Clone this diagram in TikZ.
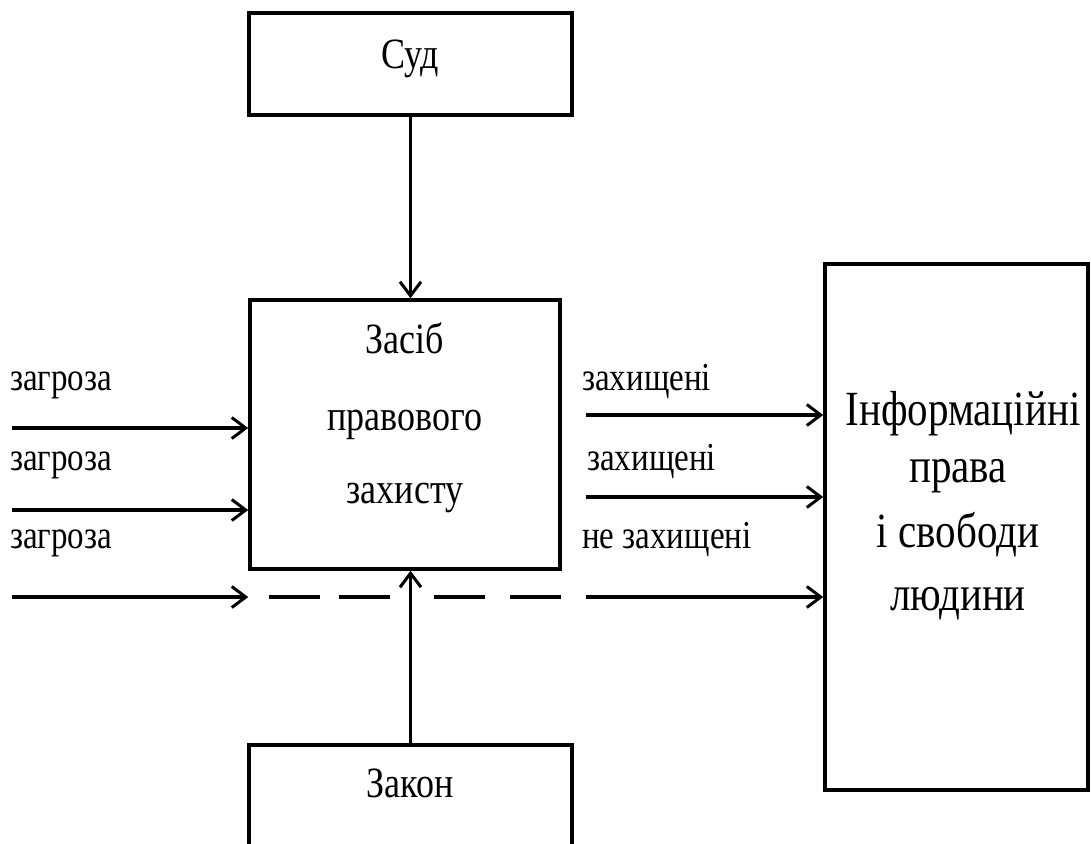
\documentclass[tikz,border=0pt]{standalone}
\usepackage{fontspec}
\setmainfont{Liberation Serif}
\usetikzlibrary{arrows.meta}
% tall letters, as in the original drawing
\newcommand\vstretch[1]{\scalebox{1}[1.2]{#1}}
\begin{document}
\begin{tikzpicture}[x=1pt,y=-1pt,
  box/.style={draw, line width=3.5pt, inner sep=0pt},
  flow/.style={line width=3.5pt, -{Straight Barb[length=14pt,width=21pt,line width=3pt]}},
  gapline/.style={line width=3.5pt},
  big/.style={font=\fontsize{36}{44}\selectfont, inner sep=0pt, anchor=base},
  bigger/.style={font=\fontsize{41}{49}\selectfont, inner sep=0pt, anchor=base},
  small/.style={font=\fontsize{33}{40}\selectfont, inner sep=0pt, anchor=base west},
]
\useasboundingbox (0,0) rectangle (1091,843);
\clip (0,0) rectangle (1091,843);

% boxes
\node[box, minimum width=323pt, minimum height=102pt] (sud)   at (410.5,64)    {};
\node[box, minimum width=310pt, minimum height=269pt] (means) at (405,434.5)   {};
\node[box, minimum width=323pt, minimum height=160pt] (law)   at (410.5,825)   {};
\node[box, minimum width=263pt, minimum height=526pt] (rights) at (956.5,527)  {};

% box texts
\node[big] (tsud) at (410,68) {\vstretch{Суд}};
\node[big] (tm1) at (405,353) {\vstretch{Засіб}};
\node[big] (tm2) at (405,430) {\vstretch{правового}};
\node[big] (tm3) at (405,503) {\vstretch{захисту}};
\node[big] (tlaw) at (410,797) {\vstretch{Закон}};
\node[bigger] (tr1) at (963,425) {\vstretch{Інформаційні}};
\node[bigger] (tr2) at (958,482) {\vstretch{права}};
\node[bigger] (tr3) at (958,547) {\vstretch{і свободи}};
\node[bigger] (tr4) at (958,610) {\vstretch{людини}};

% court and law act on the means
\draw[flow] (sud.south) -- (sud.south |- means.north);
\draw[flow] (law.north) -- (law.north |- means.south);

% incoming threats
\coordinate (in1) at (12,428);
\coordinate (in2) at (12,510);
\coordinate (in3) at (12,597);
\draw[flow] (in1) -- (in1 -| means.west);
\draw[flow] (in2) -- (in2 -| means.west);
\draw[flow] (in3) -- (in3 -| means.west);
\node[small] (l1) at (10,390) {\vstretch{загроза}};
\node[small] (l2) at (10,470) {\vstretch{загроза}};
\node[small] (l3) at (10,548) {\vstretch{загроза}};

% the unstopped threat passes beneath the means
\coordinate (d1) at (269,597);
\coordinate (d2) at (390,597);
\coordinate (d3) at (434,597);
\coordinate (d4) at (561,597);
\draw[gapline, dash pattern=on 51pt off 19pt] (d1) -- (d2);
\draw[gapline, dash pattern=on 51pt off 25pt] (d3) -- (d4);

% outgoing results
\coordinate (out1) at (586,415);
\coordinate (out2) at (586,497);
\coordinate (out3) at (586,597);
\draw[flow] (out1) -- (out1 -| rights.west);
\draw[flow] (out2) -- (out2 -| rights.west);
\draw[flow] (out3) -- (out3 -| rights.west);
\node[small] (r1) at (582,390) {\vstretch{захищені}};
\node[small] (r2) at (587,470) {\vstretch{захищені}};
\node[small] (r3) at (582,548) {\vstretch{не захищені}};
\end{tikzpicture}
\end{document}
